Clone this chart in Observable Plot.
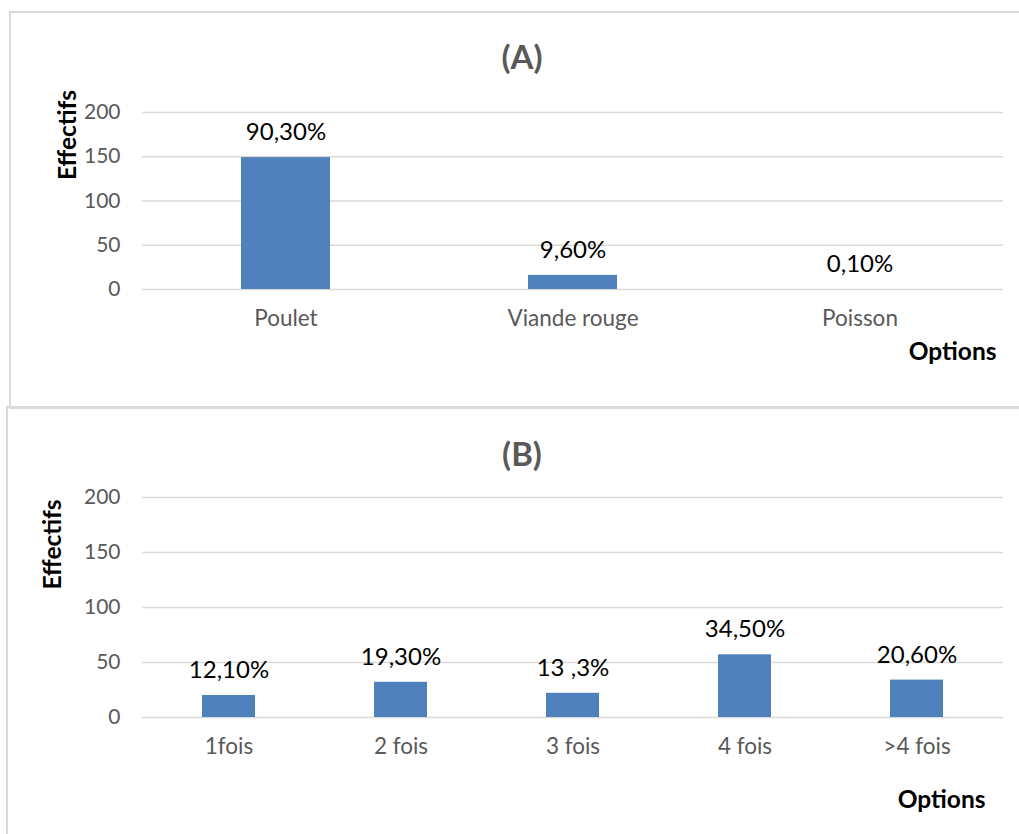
<!DOCTYPE html>
<html>
<head>
<meta charset="utf-8">
<script src="https://cdn.jsdelivr.net/npm/d3@7"></script>
<script src="https://cdn.jsdelivr.net/npm/@observablehq/plot@0.6"></script>
<style>
  html, body { margin: 0; padding: 0; background: #fff; overflow: hidden; }
  #page { position: relative; width: 1019px; height: 834px; font-family: Lato, "Noto Sans", sans-serif; }
  .panel { position: absolute; border: 2px solid #d9d9d9; box-sizing: border-box; }
  .chart { position: absolute; left: 0; }
  .chart svg { display: block; }
</style>
</head>
<body>
<div id="page">
  <div class="panel" style="left:9px; top:11px; width:1040px; height:398px;"></div>
  <div class="panel" style="left:6px; top:406px; width:1040px; height:460px;"></div>
  <div class="chart" id="chartA" style="top:0px;"></div>
  <div class="chart" id="chartB" style="top:407px;"></div>
</div>
<script>
// Panel (A): type de viande consommée
const categoriesA = ["Poulet", "Viande rouge", "Poisson"];
const valuesA = [149, 16, 0];
const labelsA = ["90,30%", "9,60%", "0,10%"];

// Panel (B): fréquence de consommation
const categoriesB = ["1fois", "2 fois", "3 fois", "4 fois", ">4 fois"];
const valuesB = [20, 32, 22, 57, 34];
const labelsB = ["12,10%", "19,30%", "13 ,3%", "34,50%", "20,60%"];

const yTicks = [0, 50, 100, 150, 200];
const barColor = "#4f81bd";
const gridColor = "#d9d9d9";
const greyText = "#595959";

function panel({categories, values, labels, title, height, marginTop, marginBottom,
                titleDx, titleDy, yLabelDx, yLabelDy, xLabelDx, xLabelDy}) {
  const data = categories.map((c, i) => ({cat: c, value: values[i], label: labels[i]}));
  return Plot.plot({
    width: 1019,
    height,
    marginLeft: 142,
    marginRight: 16,
    marginTop,
    marginBottom,
    style: {fontFamily: "Lato, 'Noto Sans', sans-serif", background: "transparent", overflow: "visible"},
    x: {domain: categories, paddingInner: 0.69, paddingOuter: 0.345, label: null},
    y: {domain: [0, 200], ticks: yTicks, label: null},
    marks: [
      Plot.gridY(yTicks, {stroke: gridColor, strokeOpacity: 1, strokeWidth: 1.6}),
      Plot.axisY({ticks: yTicks, tickSize: 0, tickPadding: 22, fontSize: 21, fill: greyText, label: null}),
      Plot.axisX({tickSize: 0, tickPadding: 21, fontSize: 22.5, fill: greyText, label: null}),
      Plot.barY(data, {x: "cat", y: "value", fill: barColor}),
      Plot.text(data, {x: "cat", y: "value", text: "label", dy: -25, fontSize: 24, fill: "#000"}),
      Plot.text([title], {frameAnchor: "top", lineAnchor: "middle", dx: titleDx, dy: titleDy, fontSize: 33, fontWeight: "bold", fill: greyText}),
      Plot.text(["Effectifs"], {frameAnchor: "left", textAnchor: "middle", lineAnchor: "middle", rotate: -90, dx: yLabelDx, dy: yLabelDy, fontSize: 24.5, fontWeight: "bold", fill: "#000"}),
      Plot.text(["Options"], {frameAnchor: "bottom-right", textAnchor: "end", lineAnchor: "middle", dx: xLabelDx, dy: xLabelDy, fontSize: 24.5, fontWeight: "bold", fill: "#000"})
    ]
  });
}

document.getElementById("chartA").append(panel({
  categories: categoriesA, values: valuesA, labels: labelsA, title: "(A)",
  height: 407, marginTop: 112, marginBottom: 118,
  titleDx: -51, titleDy: -54, yLabelDx: -74, yLabelDy: -66, xLabelDx: -7, xLabelDy: 63
}));

document.getElementById("chartB").append(panel({
  categories: categoriesB, values: valuesB, labels: labelsB, title: "(B)",
  height: 427, marginTop: 90, marginBottom: 117,
  titleDx: -51, titleDy: -42, yLabelDx: -89, yLabelDy: -63, xLabelDx: -18, xLabelDy: 83
}));
</script>
</body>
</html>
